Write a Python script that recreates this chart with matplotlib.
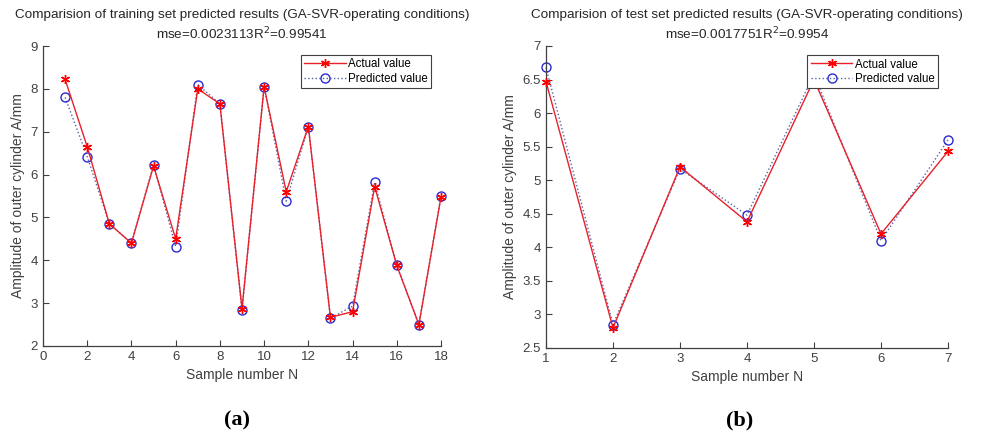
import matplotlib.pyplot as plt

plt.rcParams['font.family'] = ['Liberation Sans', 'DejaVu Sans']

# training set (a)
train_n = list(range(1, 19))
train_actual = [8.22, 6.65, 4.85, 4.40, 6.20, 4.50, 8.00, 7.65, 2.87, 8.05,
                5.60, 7.12, 2.67, 2.80, 5.72, 3.88, 2.50, 5.48]
train_pred = [7.80, 6.42, 4.85, 4.40, 6.23, 4.32, 8.10, 7.65, 2.83, 8.05,
              5.38, 7.12, 2.65, 2.93, 5.82, 3.88, 2.50, 5.50]

# test set (b)
test_n = list(range(1, 8))
test_actual = [6.47, 2.80, 5.20, 4.38, 6.50, 4.20, 5.43]
test_pred = [6.68, 2.85, 5.17, 4.48, 6.58, 4.10, 5.60]

train_title = 'Comparision of training set predicted results (GA-SVR-operating conditions)\nmse=0.0023113R$^2$=0.99541'
test_title = 'Comparision of test set predicted results (GA-SVR-operating conditions)\nmse=0.0017751R$^2$=0.9954'

txt = '#404040'

fig = plt.figure(figsize=(9.84, 4.41), dpi=100)
ax1 = fig.add_axes([43 / 984, 1 - 346 / 441, 398 / 984, 300 / 441])
ax2 = fig.add_axes([546 / 984, 1 - 348 / 441, 402 / 984, 302 / 441])


def draw(ax, n, actual, pred, title, xlim, ylim, yticks, xticks):
    ax.plot(n, pred, linestyle=':', color='#5563a8', marker='o', markersize=6.5,
            markerfacecolor='none', markeredgecolor='#2a2ad0', markeredgewidth=1.0,
            linewidth=1.0, label='Predicted value', zorder=2, clip_on=False)
    ax.plot(n, actual, linestyle='-', color='#e8202a', marker=(6, 2, 0), markersize=6.5,
            markeredgecolor='red', markeredgewidth=1.0, linewidth=1.0,
            label='Actual value', zorder=3, clip_on=False)
    ax.set_xlim(*xlim)
    ax.set_ylim(*ylim)
    ax.set_xticks(xticks)
    ax.set_yticks(yticks)
    ax.set_xticklabels([f'{t:g}' for t in xticks])
    ax.set_yticklabels([f'{t:g}' for t in yticks])
    for s in ['top', 'right']:
        ax.spines[s].set_visible(False)
    for s in ['left', 'bottom']:
        ax.spines[s].set_color(txt)
        ax.spines[s].set_linewidth(0.9)
    ax.tick_params(direction='in', colors=txt, labelsize=9.5, length=4)
    ax.set_xlabel('Sample number N', fontsize=10, color=txt, labelpad=4)
    ax.set_ylabel('Amplitude of outer cylinder A/mm', fontsize=10, color=txt)
    ax.set_title(title, fontsize=9.7, color='#262626', pad=5, linespacing=1.35)
    h, l = ax.get_legend_handles_labels()
    leg = ax.legend(h[::-1], l[::-1], loc='upper right', fontsize=8.3,
                    fancybox=False, edgecolor='#404040', framealpha=1,
                    handlelength=3.6, borderpad=0.3, labelspacing=0.2,
                    handletextpad=0.2, borderaxespad=0,
                    bbox_to_anchor=(0.975, 0.97))
    leg.get_frame().set_linewidth(0.8)


draw(ax1, train_n, train_actual, train_pred, train_title,
     (0, 18), (2, 9), list(range(2, 10)), list(range(0, 19, 2)))
draw(ax2, test_n, test_actual, test_pred, test_title,
     (1, 7), (2.5, 7), [2.5, 3, 3.5, 4, 4.5, 5, 5.5, 6, 6.5, 7], list(range(1, 8)))

fig.text(237 / 984, 1 - 420 / 441, '(a)', fontsize=16, fontweight='bold',
         family='Liberation Serif', ha='center', va='center')
fig.text(740 / 984, 1 - 420 / 441, '(b)', fontsize=16, fontweight='bold',
         family='Liberation Serif', ha='center', va='center')

fig.savefig('out.png', dpi=100)
